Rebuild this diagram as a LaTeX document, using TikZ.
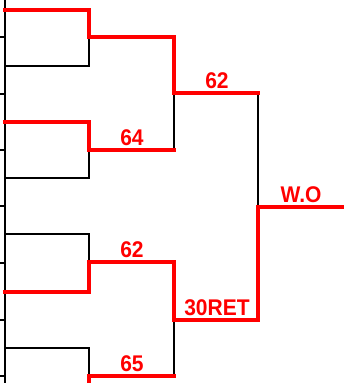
\documentclass[tikz,border=0pt]{standalone}
\usepackage{fontspec}
\setmainfont{Liberation Sans}
\begin{document}
\begin{tikzpicture}[x=1pt,y=-1pt,
  blk/.style={draw=black,line width=2pt,line cap=rect},
  redp/.style={draw=red,line width=4pt,line cap=rect,line join=miter},
  score/.style={text=red,font=\fontsize{21}{21}\selectfont\bfseries,anchor=base,inner sep=0pt,yscale=1.08}]
\useasboundingbox (0,0) rectangle (344,383);
\clip (0,0) rectangle (344,383);
% entries
\coordinate (e1) at (5,10);
\coordinate (e2) at (5,66);
\coordinate (e3) at (5,122);
\coordinate (e4) at (5,178);
\coordinate (e5) at (5,234);
\coordinate (e6) at (5,292);
\coordinate (e7) at (5,348);
\coordinate (e8) at (5,405);
% round 2
\coordinate (r1) at (89,37);
\coordinate (r2) at (89,150);
\coordinate (r3) at (89,262);
\coordinate (r4) at (89,376);
% semi
\coordinate (s1) at (174,93);
\coordinate (s2) at (174,320);
% final
\coordinate (f) at (258,207);
\coordinate (w) at (346,207);
% left rail and ticks
\draw[blk,line cap=butt] (5,-2) -- (5,385);
\foreach \y in {37,94,150,206,263,320,376}{\draw[blk,line cap=butt] (-2,\y) -- (5,\y);}
% black branches
\draw[blk] (e2) -| (r1);
\draw[blk] (e4) -| (r2);
\draw[blk] (e5) -| (r3);
\draw[blk] (e7) -| (r4);
\draw[blk] (s1) -- (174,150);
\draw[blk] (s2) -- (174,376);
\draw[blk] (258,93) -- (f);
% red winners
\draw[redp] (e1) -| (r1) -- (174,37) -- (s1) -- (258,93);
\draw[redp] (e3) -| (r2) -- (174,150);
\draw[redp] (e6) -| (r3) -- (174,262) -- (s2) -- (258,320) -- (f) -- (w);
\draw[redp] (e8) -| (r4) -- (174,376);
% scores
\node[score] (t64) at (132,145.5) {64};
\node[score] (t62a) at (217,88.5) {62};
\node[score] (t62b) at (132,257.5) {62};
\node[score] (t65) at (132,371.5) {65};
\node[score] (tret) at (217,315.5) {30RET};
\node[score] (two) at (301,202.5) {W.O};
\end{tikzpicture}
\end{document}
